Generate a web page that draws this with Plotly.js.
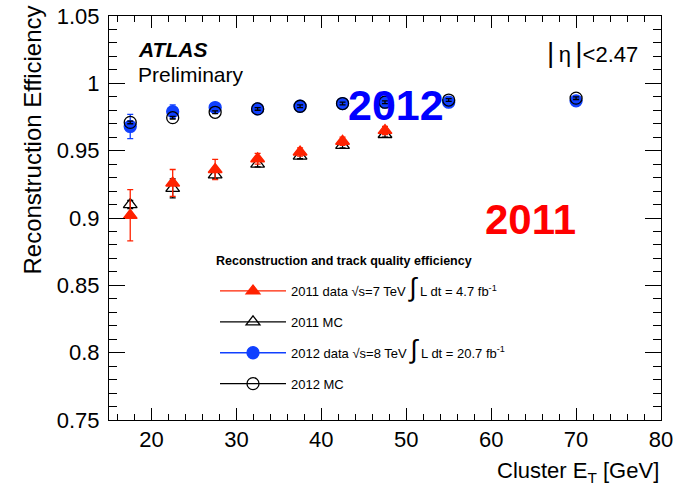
<!DOCTYPE html>
<html>
<head>
<meta charset="utf-8">
<script src="https://cdn.plot.ly/plotly-3.0.1.min.js"></script>
<style>html,body{margin:0;padding:0;background:#fff;}#chart{width:677px;height:489px;}</style>
</head>
<body>
<div id="chart"></div>
<script>
// Cluster ET bin centres [GeV]
var et2011 = [17.5, 22.5, 27.5, 32.5, 37.5, 42.5, 47.5];
var et2012 = [17.5, 22.5, 27.5, 32.5, 37.5, 42.5, 47.5, 55, 70];

// 2011 data and MC
var eff2011Data = [0.902, 0.926, 0.936, 0.944, 0.949, 0.957, 0.965];
var err2011Data = [0.019, 0.010, 0.0075, 0.004, 0.003, 0.003, 0.003];
var eff2011MC   = [0.910, 0.922, 0.932, 0.940, 0.946, 0.954, 0.962];
var err2011MC   = [0.003, 0.007, 0.003, 0.002, 0.002, 0.002, 0.002];

// 2012 data and MC
var eff2012Data = [0.968, 0.979, 0.982, 0.981, 0.983, 0.985, 0.986, 0.986, 0.987];
var err2012Data = [0.009, 0.005, 0.002, 0.001, 0.001, 0.001, 0.001, 0.001, 0.001];
var eff2012MC   = [0.971, 0.9745, 0.9785, 0.981, 0.983, 0.985, 0.986, 0.9876, 0.989];
var err2012MC   = [0.001, 0.001, 0.001, 0.001, 0.001, 0.001, 0.001, 0.001, 0.001];

var legendTitle = 'Reconstruction and track quality efficiency';
var legendNames = [
  '2011 data \u221As=7 TeV <span style="font-size:26px">\u222B</span> L dt = 4.7 fb<sup>-1</sup>',
  '2011 MC',
  '2012 data \u221As=8 TeV <span style="font-size:26px">\u222B</span> L dt = 20.7 fb<sup>-1</sup>',
  '2012 MC'
];

var RED = '#ff2200', BLUE = '#1040ff', BLACK = '#000000';

function pts(x, y, e, color, symbol, size, ecol) {
  return {
    x: x, y: y, type: 'scatter', mode: 'markers', showlegend: false, hoverinfo: 'x+y',
    marker: {symbol: symbol, size: size, color: color, line: {color: color, width: 1.3}},
    error_y: {type: 'data', array: e, visible: true, color: ecol, thickness: 1.3, width: 3},
    cliponaxis: false
  };
}
function leg(name, color, symbol, size, group, rank) {
  return {
    x: [null], y: [null], type: 'scatter', mode: 'lines+markers', name: name,
    legendgroup: group, legendrank: rank,
    line: {color: color, width: 1.3},
    marker: {symbol: symbol, size: size, color: color, line: {color: color, width: 1.3}}
  };
}

var traces = [
  pts(et2011, eff2011MC, err2011MC, BLACK, 'triangle-up-open', 12, BLACK),
  pts(et2011, eff2011Data, err2011Data, RED, 'triangle-up', 12, RED),
  pts(et2012, eff2012Data, err2012Data, BLUE, 'circle', 12, BLUE),
  pts(et2012, eff2012MC, err2012MC, BLACK, 'circle-open', 12, BLACK),
  leg(legendNames[0], RED, 'triangle-up', 12, 'g1', 1),
  leg(legendNames[1], BLACK, 'triangle-up-open', 12, 'g2', 2),
  leg(legendNames[2], BLUE, 'circle', 12, 'g3', 3),
  leg(legendNames[3], BLACK, 'circle-open', 12, 'g4', 4)
];

var W = 677, H = 489, L = 109, R = 16, T = 16, B = 69;
var pw = W - L - R, ph = H - T - B;
function px(x) { return (x - L) / pw; }
function py(y) { return (H - B - y) / ph; }

var FONT = 'Liberation Sans, Arial, Helvetica, sans-serif';

var layout = {
  width: W, height: H,
  margin: {l: L, r: R, t: T, b: B},
  paper_bgcolor: '#fff', plot_bgcolor: '#fff',
  font: {family: FONT, color: '#000', size: 22},
  showlegend: true,
  legend: {
    x: px(215), y: py(276), xanchor: 'left', yanchor: 'top',
    bgcolor: 'rgba(0,0,0,0)', borderwidth: 0,
    font: {family: FONT, size: 13, color: '#000'},
    traceorder: 'grouped', tracegroupgap: 11, itemwidth: 66, itemclick: false
  },
  xaxis: {
    range: [15, 80], dtick: 10, tick0: 0,
    showline: true, linecolor: '#000', linewidth: 1, mirror: 'allticks',
    ticks: 'inside', ticklen: 12, tickcolor: '#000', tickwidth: 1,
    minor: {dtick: 2, ticklen: 6, ticks: 'inside', tickcolor: '#000', showgrid: false},
    showgrid: false, zeroline: false,
    tickfont: {size: 22, family: FONT}
  },
  yaxis: {
    range: [0.75, 1.05], dtick: 0.05, tick0: 0,
    showline: true, linecolor: '#000', linewidth: 1, mirror: 'allticks',
    ticks: 'inside', ticklen: 16, tickcolor: '#000', tickwidth: 1,
    minor: {dtick: 0.01, ticklen: 8, ticks: 'inside', tickcolor: '#000', showgrid: false},
    showgrid: false, zeroline: false, ticklabelstandoff: 4,
    tickfont: {size: 22, family: FONT}
  },
  annotations: [
    {xref: 'paper', yref: 'paper', x: px(32), y: 1 + 12/ph, xanchor: 'center', yanchor: 'top',
     text: 'Reconstruction Efficiency', textangle: -90, showarrow: false, font: {size: 24}},
    {xref: 'paper', yref: 'paper', x: 1, y: py(488), xanchor: 'right', yanchor: 'bottom',
     text: 'Cluster E<sub>T</sub> [GeV]', showarrow: false, font: {size: 22}},
    {xref: 'paper', yref: 'paper', x: px(136), y: py(50), xanchor: 'left', yanchor: 'middle',
     text: '<b><i>ATLAS</i></b>', showarrow: false, font: {size: 21}},
    {xref: 'paper', yref: 'paper', x: px(136), y: py(74), xanchor: 'left', yanchor: 'middle',
     text: 'Preliminary', showarrow: false, font: {size: 21}},
    {xref: 'paper', yref: 'paper', x: px(640), y: py(53), xanchor: 'right', yanchor: 'middle',
     text: '<span style="font-size:28px">|</span>\u2009\u03B7\u2009<span style="font-size:28px">|</span><2.47', showarrow: false, font: {size: 22}},
    {xref: 'paper', yref: 'paper', x: px(396), y: py(105), xanchor: 'center', yanchor: 'middle',
     text: '<b>2012</b>', showarrow: false, font: {size: 43, color: '#0000ff'}},
    {xref: 'paper', yref: 'paper', x: px(530), y: py(219), xanchor: 'center', yanchor: 'middle',
     text: '<b>2011</b>', showarrow: false, font: {size: 42, color: '#ff0000'}},
    {xref: 'paper', yref: 'paper', x: px(214), y: py(261), xanchor: 'left', yanchor: 'middle',
     text: '<b>' + legendTitle + '</b>', showarrow: false, font: {size: 12.5}}
  ]
};

Plotly.newPlot('chart', traces, layout, {displayModeBar: false, staticPlot: true});
</script>
</body>
</html>
